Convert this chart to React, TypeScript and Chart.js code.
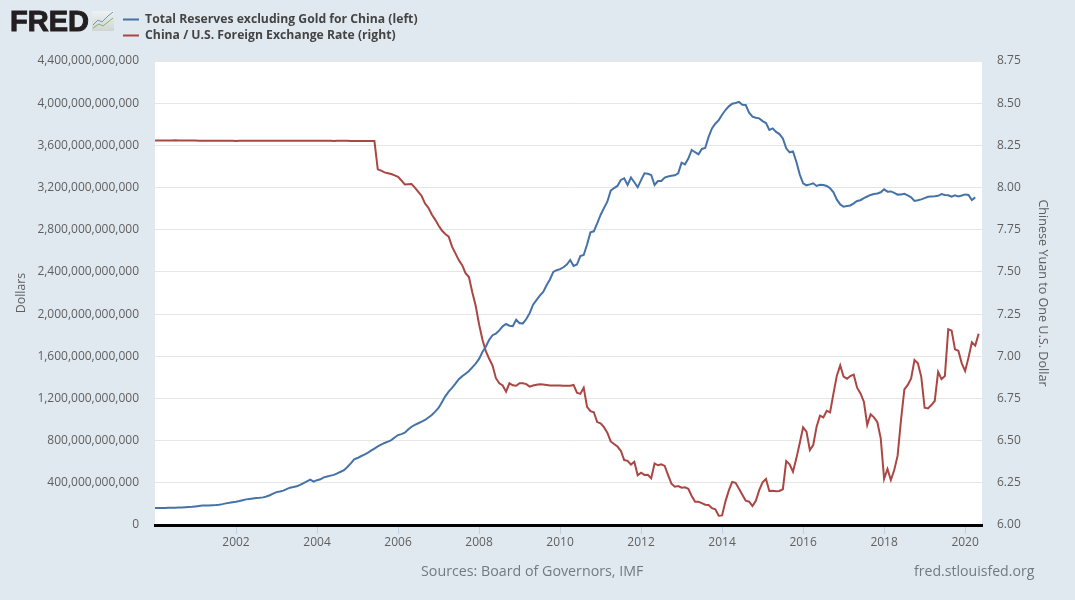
import React, { useEffect, useRef } from "react";
import { Chart, registerables } from "chart.js";

Chart.register(...registerables);

const START_YEAR = 2000;
const tickYears = [2002, 2004, 2006, 2008, 2010, 2012, 2014, 2016, 2018, 2020];

// Total reserves excluding gold, billions of dollars, by month
const reserves2000 = [161,161,162,162,163,164,164,165,166,168,170,172];
const reserves2001 = [176,180,184,185,186,188,189,192,198,205,210,216];
const reserves2002 = [221,227,235,243,247,251,255,258,262,270,282,297];
const reserves2003 = [312,318,326,340,354,360,368,380,398,414,430,411];
const reserves2004 = [425,433,452,460,468,475,490,505,520,550,585,622];
const reserves2005 = [635,652,668,685,705,725,745,762,778,790,805,830];
const reserves2006 = [853,862,875,905,932,950,965,980,996,1020,1043,1075];
const reserves2007 = [1110,1165,1220,1265,1300,1340,1382,1410,1435,1460,1495,1530];
const reserves2008 = [1575,1640,1690,1756,1800,1815,1845,1884,1906,1890,1885,1946];
const reserves2009 = [1913,1912,1953,2009,2089,2132,2175,2211,2273,2328,2400,2416];
const reserves2010 = [2426,2444,2470,2513,2456,2470,2550,2560,2660,2775,2785,2860];
const reserves2011 = [2940,3005,3066,3170,3195,3215,3272,3287,3224,3295,3250,3202];
const reserves2012 = [3270,3335,3330,3319,3224,3262,3262,3295,3305,3312,3316,3335];
const reserves2013 = [3436,3420,3475,3556,3535,3515,3566,3575,3680,3760,3805,3840];
const reserves2014 = [3890,3935,3970,3995,4002,4012,3985,3983,3910,3872,3862,3856];
const reserves2015 = [3830,3812,3746,3761,3728,3707,3665,3572,3534,3543,3445,3325];
const reserves2016 = [3240,3221,3230,3240,3215,3227,3224,3215,3193,3155,3085,3040];
const reserves2017 = [3018,3024,3030,3050,3072,3080,3100,3115,3130,3138,3143,3155];
const reserves2018 = [3183,3161,3163,3150,3133,3135,3140,3125,3108,3073,3080,3088];
const reserves2019 = [3100,3112,3115,3118,3122,3138,3130,3127,3113,3126,3116,3125];
const reserves2020 = [3135,3130,3082,3107];

// Yuan per dollar, by month
const rate2000 = [8.2793,8.279,8.2788,8.2792,8.279,8.2795,8.2796,8.279,8.2785,8.2782,8.2785,8.2785];
const rate2001 = [8.2786,8.2777,8.2772,8.2772,8.277,8.2768,8.2768,8.2772,8.2771,8.277,8.277,8.2768];
const rate2002 = [8.2766,8.2767,8.2772,8.2772,8.2772,8.277,8.2772,8.2772,8.2772,8.2771,8.2771,8.2772];
const rate2003 = [8.2768,8.2773,8.2775,8.2772,8.277,8.2771,8.2772,8.2771,8.2771,8.277,8.2771,8.2772];
const rate2004 = [8.2769,8.277,8.277,8.2771,8.2771,8.2766,8.2768,8.2768,8.2767,8.2767,8.2765,8.2765];
const rate2005 = [8.2765,8.2765,8.2765,8.2765,8.2765,8.2765,8.108,8.1,8.09,8.085,8.08,8.072];
const rate2006 = [8.063,8.042,8.018,8.02,8.021,8.0,7.975,7.95,7.905,7.88,7.84,7.81];
const rate2007 = [7.775,7.745,7.725,7.709,7.65,7.61,7.57,7.54,7.492,7.47,7.38,7.3];
const rate2008 = [7.19,7.1,7.03,6.985,6.945,6.87,6.84,6.827,6.79,6.84,6.828,6.825];
const rate2009 = [6.84,6.84,6.835,6.82,6.827,6.831,6.834,6.832,6.83,6.827,6.827,6.827];
const rate2010 = [6.827,6.826,6.825,6.826,6.83,6.784,6.777,6.814,6.7,6.675,6.668,6.61];
const rate2011 = [6.603,6.58,6.547,6.495,6.48,6.465,6.44,6.385,6.38,6.358,6.375,6.295];
const rate2012 = [6.31,6.297,6.298,6.277,6.365,6.354,6.36,6.35,6.296,6.245,6.227,6.231];
const rate2013 = [6.221,6.223,6.215,6.172,6.138,6.138,6.13,6.12,6.119,6.1,6.093,6.055];
const rate2014 = [6.057,6.14,6.205,6.255,6.25,6.215,6.18,6.144,6.138,6.113,6.144,6.207];
const rate2015 = [6.253,6.273,6.202,6.203,6.2,6.202,6.212,6.379,6.36,6.316,6.395,6.484];
const rate2016 = [6.579,6.553,6.444,6.474,6.583,6.648,6.638,6.677,6.668,6.78,6.885,6.946];
const rate2017 = [6.879,6.867,6.883,6.891,6.814,6.78,6.731,6.593,6.656,6.638,6.609,6.514];
const rate2018 = [6.273,6.332,6.267,6.326,6.411,6.622,6.804,6.83,6.869,6.978,6.958,6.879];
const rate2019 = [6.695,6.691,6.711,6.735,6.908,6.865,6.883,7.16,7.152,7.041,7.033,6.958];
const rate2020 = [6.913,6.992,7.083,7.063,7.134];

const reservesBillions = [
  ...reserves2000, ...reserves2001, ...reserves2002, ...reserves2003, ...reserves2004,
  ...reserves2005, ...reserves2006, ...reserves2007, ...reserves2008, ...reserves2009,
  ...reserves2010, ...reserves2011, ...reserves2012, ...reserves2013, ...reserves2014,
  ...reserves2015, ...reserves2016, ...reserves2017, ...reserves2018, ...reserves2019,
  ...reserves2020,
];
const exchangeRate = [
  ...rate2000, ...rate2001, ...rate2002, ...rate2003, ...rate2004,
  ...rate2005, ...rate2006, ...rate2007, ...rate2008, ...rate2009,
  ...rate2010, ...rate2011, ...rate2012, ...rate2013, ...rate2014,
  ...rate2015, ...rate2016, ...rate2017, ...rate2018, ...rate2019,
  ...rate2020,
];

const seriesNames = [
  "Total Reserves excluding Gold for China (left)",
  "China / U.S. Foreign Exchange Rate (right)",
];
const axisTitles = ["Dollars", "Chinese Yuan to One U.S. Dollar"];
const sourceText = "Sources: Board of Governors, IMF";
const siteText = "fred.stlouisfed.org";
const logoText = "FRED";

const FONT = "'Open Sans', sans-serif";
const TEXT = "#5f5f5f";
const BG = "#e1e9f0";

const monthX = (i: number) => START_YEAR + i / 12;

const framePlugin = {
  id: "frame",
  beforeDraw(chart: any) {
    const { ctx, chartArea: a } = chart;
    ctx.save();
    ctx.fillStyle = "#ffffff";
    ctx.fillRect(a.left, a.top, a.right - a.left, a.bottom - a.top);
    ctx.restore();
  },
  afterLayout(chart: any) {
    const l = chart.legend;
    if (!l) return;
    const w = l.width, h = l.height;
    l.left = 119.2;
    l.top = 9.6;
    l.right = l.left + w;
    l.bottom = l.top + h;
  },
  afterDraw(chart: any) {
    const { ctx } = chart;
    ctx.save();
    ctx.textBaseline = "middle";
    ctx.fillStyle = "#707a80";
    ctx.font = `14.25px ${FONT}`;
    ctx.textAlign = "left";
    ctx.fillText(sourceText, 421, 572);
    ctx.font = `14.1px ${FONT}`;
    ctx.fillText(siteText, 914, 572);

    // logo
    ctx.fillStyle = "#231f20";
    ctx.font = "900 29px 'Liberation Sans', sans-serif";
    ctx.lineWidth = 1;
    ctx.strokeStyle = "#231f20";
    ctx.textBaseline = "alphabetic";
    ctx.fillText(logoText, 10, 30.5);
    ctx.strokeText(logoText, 10, 30.5);
    const g = ctx.createLinearGradient(0, 10, 0, 31);
    g.addColorStop(0, "#f0f3f4");
    g.addColorStop(1, "#cfd6d2");
    ctx.fillStyle = g;
    ctx.fillRect(92, 11, 22, 20);
    ctx.lineWidth = 1;
    ctx.strokeStyle = "#6f97bd";
    ctx.beginPath();
    ctx.moveTo(93, 25); ctx.lineTo(98, 20); ctx.lineTo(102, 22); ctx.lineTo(108, 16); ctx.lineTo(113, 12);
    ctx.stroke();
    ctx.strokeStyle = "#8aae5f";
    ctx.beginPath();
    ctx.moveTo(93, 28); ctx.lineTo(99, 24); ctx.lineTo(103, 26); ctx.lineTo(108, 22); ctx.lineTo(113, 18);
    ctx.stroke();
    ctx.restore();
  },
};

export default function App() {
  const ref = useRef<HTMLCanvasElement | null>(null);
  useEffect(() => {
    document.body.style.margin = "0";
    document.body.style.background = BG;
    const chart = new Chart(ref.current as HTMLCanvasElement, {
      type: "line",
      data: {
        datasets: [
          {
            label: seriesNames[0],
            data: reservesBillions.map((v, i) => ({ x: monthX(i), y: v * 1e9 })),
            borderColor: "#4572a7",
            backgroundColor: "#4572a7",
            borderWidth: 2,
            pointRadius: 0,
            tension: 0,
            yAxisID: "y",
          },
          {
            label: seriesNames[1],
            data: exchangeRate.map((v, i) => ({ x: monthX(i), y: v })),
            borderColor: "#aa4643",
            backgroundColor: "#aa4643",
            borderWidth: 2,
            pointRadius: 0,
            tension: 0,
            yAxisID: "y1",
          },
        ],
      },
      options: {
        responsive: false,
        animation: false,
        layout: { autoPadding: false, padding: { top: 61, left: 0, right: 0, bottom: 0 } },
        plugins: {
          tooltip: { enabled: false },
          legend: {
            position: "chartArea",
            align: "start",
            labels: {
              boxWidth: 16,
              boxHeight: 2,
              padding: 3.8,
              color: "#444444",
              font: { family: FONT, size: 12.2, weight: "bold" },
              generateLabels: (c: any) =>
                Chart.defaults.plugins.legend.labels
                  .generateLabels(c)
                  .map((it: any) => ({ ...it, lineWidth: 0 })),
            },
          },
        },
        scales: {
          x: {
            type: "linear",
            min: START_YEAR,
            max: START_YEAR + 245 / 12,
            afterBuildTicks: (s: any) => {
              s.ticks = tickYears.map((value) => ({ value }));
            },
            afterFit: (s: any) => { s.height = 75; },
            ticks: {
              autoSkip: false,
              maxRotation: 0,
              padding: 1,
              color: TEXT,
              font: { family: FONT, size: 12 },
              callback: (v: any) => String(v),
            },
            grid: { drawOnChartArea: false, tickLength: 9, tickColor: "#c0d0e0", tickWidth: 1 },
            border: { color: "#000000", width: 3 },
          },
          y: {
            position: "left",
            min: 0,
            max: 4.4e12,
            afterFit: (s: any) => { s.width = 155; },
            ticks: {
              stepSize: 4e11,
              padding: 16,
              color: TEXT,
              font: { family: FONT, size: 12 },
              callback: (v: any) => Number(v).toLocaleString("en-US"),
            },
            grid: { color: "#e6e6e6", drawTicks: false, lineWidth: 1 },
            border: { display: false },
            title: {
              display: true,
              text: axisTitles[0],
              color: TEXT,
              font: { family: FONT, size: 12.4 },
              padding: { top: 14, bottom: 0 },
            },
          },
          y1: {
            position: "right",
            min: 6,
            max: 8.75,
            afterFit: (s: any) => { s.width = 93; },
            ticks: {
              stepSize: 0.25,
              padding: 15,
              color: TEXT,
              font: { family: FONT, size: 12 },
              callback: (v: any) => Number(v).toFixed(2),
            },
            grid: { display: false, drawTicks: false },
            border: { display: false },
            title: {
              display: true,
              text: axisTitles[1],
              color: TEXT,
              font: { family: FONT, size: 12.6 },
              padding: { top: 25, bottom: 0 },
            },
          },
        },
      },
      plugins: [framePlugin],
    } as any);
    return () => chart.destroy();
  }, []);
  return <canvas ref={ref} width={1075} height={600} style={{ display: "block" }} />;
}
